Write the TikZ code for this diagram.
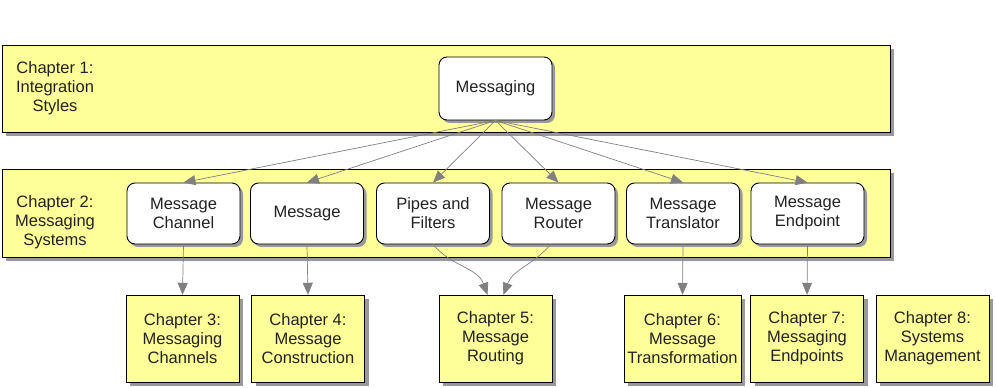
\documentclass[tikz,border=0pt]{standalone}
\usepackage{fontspec}
\setmainfont{Liberation Sans}
\usetikzlibrary{arrows.meta, shadows, positioning}
\definecolor{bandyellow}{HTML}{FFFF99}
\definecolor{inkgray}{HTML}{222222}
\newcommand\diagfont{\fontsize{16.5}{19}\selectfont}
\tikzset{
  bandbox/.style={
    rectangle, draw=black, fill=bandyellow,
    minimum width=888pt, minimum height=#1,
    drop shadow={shadow xshift=4pt, shadow yshift=-4pt, fill=gray!80, opacity=1}
  },
  bandlabel/.style={align=center, font=\diagfont, text=inkgray},
  patnode/.style={
    rectangle, rounded corners=8pt, draw=black, line width=0.9pt,
    fill=white, minimum width=113pt, minimum height=#1,
    align=center, font=\diagfont, text=inkgray,
    drop shadow={shadow xshift=3pt, shadow yshift=-3pt, fill=gray!80, opacity=1}
  },
  chapbox/.style={
    rectangle, draw=black, fill=bandyellow,
    minimum width=113pt, minimum height=87pt,
    align=center, font=\diagfont, text=inkgray,
    drop shadow={shadow xshift=4pt, shadow yshift=-4pt, fill=gray!80, opacity=1}
  },
  linkarrow/.style={-{Triangle[length=12pt,width=10pt]}, color=gray, line width=0.7pt},
}
\begin{document}
\begin{tikzpicture}[x=1pt, y=1pt]
  \useasboundingbox (0,0) rectangle (996,388);
  % chapter 1 band
  \node[bandbox=87pt](band1) at (446,299.5) {};
  \node[bandlabel](lab1) at (55,299.5) {Chapter 1:\\Integration\\Styles};
  \node[patnode=63pt](messaging) at (495.5,299.5) {Messaging};
  % chapter 2 band
  \node[bandbox=88pt](band2) at (446,175) {};
  \node[bandlabel](lab2) at (55,166) {Chapter 2:\\Messaging\\Systems};
  \node[patnode=61pt](channel) at (183.5,174.5) {Message\\Channel};
  \node[patnode=61pt](message) at (307,174.5)   {Message};
  \node[patnode=61pt](pipes)   at (433,174.5)   {Pipes and\\Filters};
  \node[patnode=61pt](router)  at (558.5,174.5) {Message\\Router};
  \node[patnode=61pt](transl)  at (683,174.5)   {Message\\Translator};
  \node[patnode=61pt](endpt)   at (807.5,174.5) {Message\\Endpoint};
  % chapters 3-8
  \node[chapbox](ch3) at (182.5,49.5) {Chapter 3:\\Messaging\\Channels};
  \node[chapbox](ch4) at (308,49.5)   {Chapter 4:\\Message\\Construction};
  \node[chapbox](ch5) at (495.5,49.5) {Chapter 5:\\Message\\Routing};
  \node[chapbox](ch6) at (682.5,49.5) {Chapter 6:\\Message\\Transformation};
  \node[chapbox](ch7) at (807,49.5)   {Chapter 7:\\Messaging\\Endpoints};
  \node[chapbox](ch8) at (932.5,49.5) {Chapter 8:\\Systems\\Management};
  % fan out from messaging
  \draw[linkarrow](messaging.south)--(channel.north);
  \draw[linkarrow](messaging.south)--(message.north);
  \draw[linkarrow](messaging.south)--(pipes.north);
  \draw[linkarrow](messaging.south)--(router.north);
  \draw[linkarrow](messaging.south)--(transl.north);
  \draw[linkarrow](messaging.south)--(endpt.north);
  % down to the chapters
  \draw[linkarrow](channel.south)--(ch3.north);
  \draw[linkarrow](message.south)--(ch4.north);
  \draw[linkarrow](pipes.south) to[out=-50,in=110] ([xshift=-8pt]ch5.north);
  \draw[linkarrow]([xshift=-8pt]router.south) to[out=-130,in=70] ([xshift=8pt]ch5.north);
  \draw[linkarrow](transl.south)--(ch6.north);
  \draw[linkarrow](endpt.south)--(ch7.north);
\end{tikzpicture}
\end{document}
